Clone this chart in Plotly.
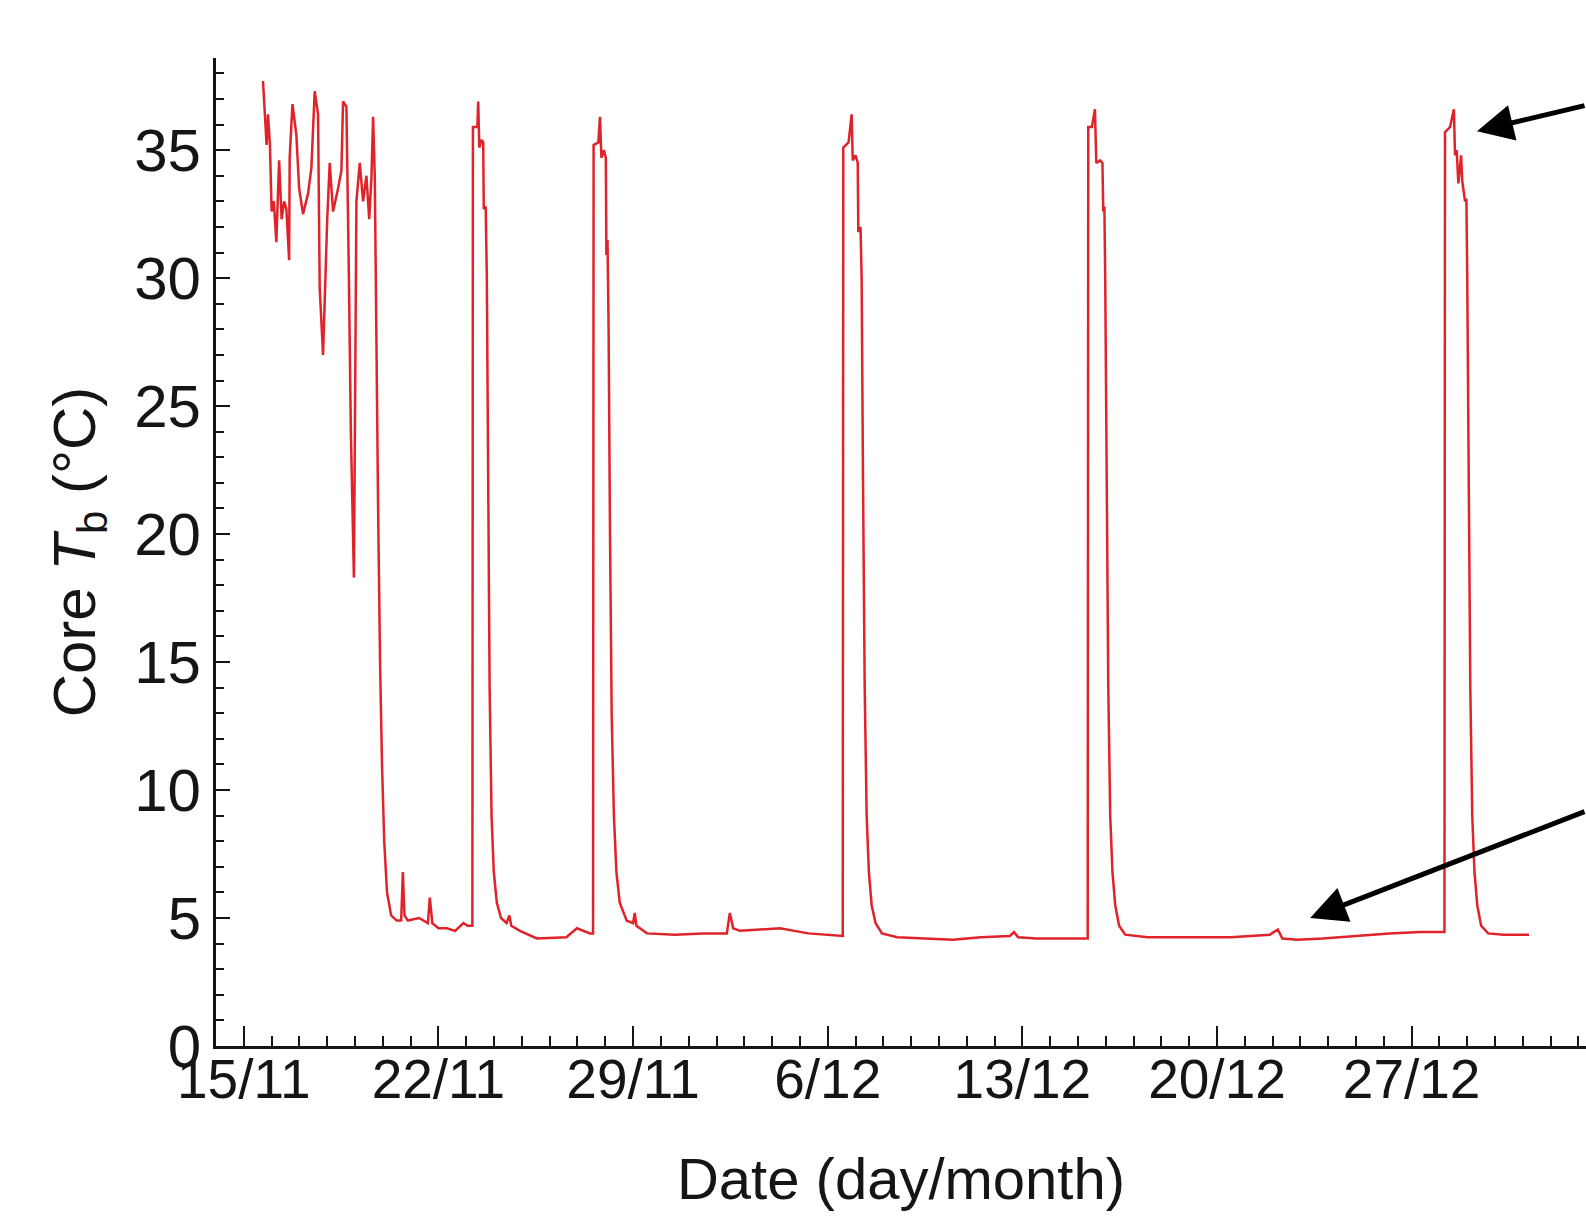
import pandas as pd
import plotly.graph_objects as go

# ---------------- data ----------------
start_date = "2010-11-15"

# time in days after 15/11 00:00, core body temperature in degC
days = [
    0.69, 0.76, 0.82, 0.87, 0.94, 1.00, 1.08, 1.17, 1.27, 1.36, 1.45, 1.53, 1.63, 1.65, 1.75,
    1.89, 1.99, 2.13, 2.31, 2.43, 2.55, 2.67, 2.73, 2.85, 3.00, 3.09, 3.21, 3.39, 3.51, 3.57,
    3.69, 3.78, 3.85, 3.96, 4.02, 4.05, 4.17, 4.29, 4.41, 4.51, 4.59, 4.65,
    4.71, 4.76, 4.83, 4.90, 4.97, 5.05, 5.15, 5.30, 5.50, 5.66, 5.72, 5.78, 5.90, 6.30, 6.62,
    6.69, 6.78, 7.00, 7.30, 7.60, 7.90, 8.05, 8.22,
    8.24, 8.40, 8.43, 8.47, 8.55, 8.61, 8.63, 8.70,
    8.74, 8.78, 8.84, 8.91, 8.99, 9.10, 9.25, 9.45, 9.55, 9.62, 9.93, 10.54, 11.60, 11.98, 12.45, 12.56,
    12.58, 12.75, 12.81, 12.86, 12.95, 13.02, 13.04, 13.08,
    13.12, 13.17, 13.23, 13.31, 13.40, 13.52, 13.77, 14.00, 14.06, 14.12, 14.50, 15.5, 16.5, 17.37,
    17.48, 17.60, 17.84, 19.28, 20.3, 21.54,
    21.56, 21.75, 21.86, 21.90, 22.00, 22.08, 22.10, 22.18,
    22.22, 22.27, 22.33, 22.40, 22.48, 22.58, 22.72, 22.95, 23.5, 24.5, 25.5, 26.5, 27.55, 27.70,
    27.85, 28.5, 29.5, 30.35,
    30.37, 30.50, 30.61, 30.66, 30.80, 30.88, 30.91, 30.95,
    30.98, 31.03, 31.09, 31.16, 31.24, 31.34, 31.48, 31.70, 32.5, 34.0, 35.5, 36.9, 37.19,
    37.35, 37.9, 38.8, 40.0, 41.2, 42.3, 43.18,
    43.20, 43.38, 43.52, 43.56, 43.62, 43.68, 43.78, 43.82, 43.92, 43.97,
    44.00, 44.05, 44.11, 44.18, 44.26, 44.36, 44.50, 44.75, 45.3, 46.22,
]
core_tb = [
    37.7, 36.5, 35.2, 36.4, 35.2, 32.6, 33.0, 31.4, 34.6, 32.3, 33.0, 32.7, 30.7, 34.7, 36.8,
    35.6, 33.5, 32.5, 33.3, 34.3, 37.3, 36.4, 29.6, 27.0, 32.3, 34.5, 32.6, 33.5, 34.2, 36.9,
    36.7, 30.0, 24.0, 18.3, 28.0, 33.0, 34.5, 33.0, 34.0, 32.3, 33.9, 36.3,
    34.0, 28.0, 21.0, 15.0, 11.0, 8.0, 6.0, 5.1, 4.9, 4.9, 6.8, 5.1, 4.9, 5.0, 4.8,
    5.8, 4.8, 4.6, 4.6, 4.5, 4.8, 4.7, 4.7,
    35.9, 35.9, 36.9, 35.1, 35.4, 35.3, 32.7, 32.8,
    30.0, 22.0, 14.0, 9.0, 6.8, 5.6, 5.0, 4.8, 5.1, 4.7, 4.5, 4.2, 4.25, 4.6, 4.4, 4.4,
    35.2, 35.3, 36.3, 34.7, 35.0, 34.7, 30.9, 31.5,
    28.0, 20.0, 13.0, 9.0, 6.8, 5.6, 4.9, 4.8, 5.2, 4.7, 4.4, 4.35, 4.4, 4.4,
    5.2, 4.6, 4.5, 4.6, 4.4, 4.3,
    35.1, 35.3, 36.4, 34.6, 34.8, 34.5, 31.8, 32.0,
    30.0, 22.0, 14.0, 9.0, 6.8, 5.5, 4.8, 4.4, 4.25, 4.2, 4.15, 4.25, 4.3, 4.45,
    4.25, 4.2, 4.2, 4.2,
    35.9, 35.9, 36.6, 34.5, 34.6, 34.5, 32.6, 32.8,
    30.0, 22.0, 14.0, 9.0, 6.8, 5.5, 4.7, 4.35, 4.25, 4.25, 4.25, 4.35, 4.55,
    4.2, 4.15, 4.2, 4.3, 4.4, 4.45, 4.45,
    35.7, 35.9, 36.6, 34.8, 35.0, 33.7, 34.8, 33.8, 33.0, 33.1,
    30.0, 22.0, 14.0, 9.0, 6.8, 5.5, 4.7, 4.4, 4.35, 4.35,
]

tick_dates = ["2010-11-15", "2010-11-22", "2010-11-29", "2010-12-06",
              "2010-12-13", "2010-12-20", "2010-12-27"]
tick_labels = ["15/11", "22/11", "29/11", "6/12", "13/12", "20/12", "27/12"]
y_ticks = [0, 5, 10, 15, 20, 25, 30, 35]

# annotation targets (days after 15/11, degC)
arrow_days = [44.35, 38.35]
arrow_vals = [35.74, 5.0]

# ---------------- figure ----------------
times = pd.Timestamp(start_date) + pd.to_timedelta(days, unit="D")

FONT = "Liberation Sans, Arial, Helvetica, sans-serif"
INK = "#151515"

fig = go.Figure()
fig.add_trace(go.Scatter(
    x=times, y=core_tb, mode="lines",
    line=dict(color="#e0232b", width=2.5),
    showlegend=False, hoverinfo="skip",
))

arrow_t = pd.Timestamp(start_date) + pd.to_timedelta(arrow_days, unit="D")
offsets = [(113, -26), (280, -107)]
for t, v, (ax, ay) in zip(arrow_t, arrow_vals, offsets):
    fig.add_annotation(
        x=t, y=v, xref="x", yref="y", ax=ax, ay=ay, text="",
        showarrow=True, arrowhead=2, arrowsize=1.45, arrowwidth=5,
        arrowcolor="#000000", standoff=0,
    )

fig.update_layout(
    width=1586, height=1218,
    margin=dict(l=216, r=0, t=58, b=172),
    paper_bgcolor="white", plot_bgcolor="white",
    font=dict(family=FONT, color=INK, size=54),
)

fig.update_xaxes(
    type="date",
    range=["2010-11-14 00:00", "2011-01-02 06:30"],
    tickmode="array", tickvals=tick_dates, ticktext=tick_labels,
    ticks="inside", ticklen=20, tickwidth=2, tickcolor=INK,
    minor=dict(tickmode="linear", tick0="2010-11-15", dtick=86400000,
               ticks="inside", ticklen=10, tickwidth=2, tickcolor=INK, showgrid=False),
    showline=True, linewidth=3, linecolor=INK, mirror=False,
    showgrid=False, zeroline=False,
    tickfont=dict(family=FONT, size=55, color=INK),
    ticklabelstandoff=-17,
    title=dict(text="Date (day/month)", font=dict(family=FONT, size=58, color=INK), standoff=50),
)
fig.update_yaxes(
    range=[0, 38.6],
    tickmode="array", tickvals=y_ticks,
    ticks="inside", ticklen=14, tickwidth=2, tickcolor=INK,
    minor=dict(tickmode="linear", tick0=0, dtick=1,
               ticks="inside", ticklen=8, tickwidth=2, tickcolor=INK, showgrid=False),
    showline=True, linewidth=3, linecolor=INK, mirror=False,
    showgrid=False, zeroline=False,
    tickfont=dict(family=FONT, size=60, color=INK),
    title=dict(text="Core <i>T</i><sub>b</sub> (°C)", font=dict(family=FONT, size=60, color=INK), standoff=20),
)

fig.write_html("out.html")
